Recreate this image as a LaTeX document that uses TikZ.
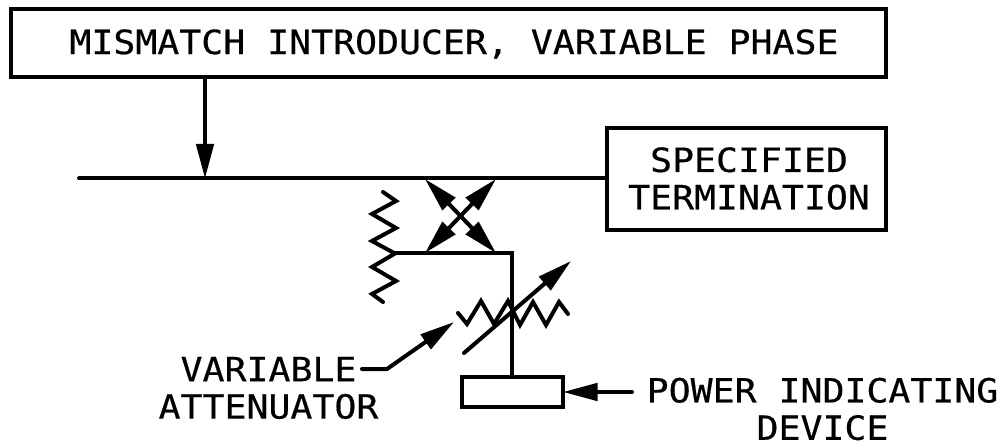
\documentclass[tikz,border=0pt]{standalone}
\usepackage{fontspec}
\setmainfont[FakeStretch=1.095,FakeBold=0.45]{DejaVu Sans Mono}
\usetikzlibrary{arrows.meta}
\tikzset{
  x=0.75pt,y=-0.75pt,
  wire/.style={line width=3pt,line join=miter,line cap=round},
  boxnode/.style={draw,line width=3pt,inner sep=0pt,outer sep=0pt,minimum width=#1},
  lab/.style={inner sep=0pt,align=center,font=\fontsize{25pt}{28pt}\selectfont},
  headtip/.style={-{Triangle[length=26pt,width=13pt]}},
  tipboth/.style={{Triangle[length=26pt,width=13pt]}-{Triangle[length=26pt,width=13pt]}},
}
\begin{document}
\begin{tikzpicture}
\useasboundingbox (0,0) rectangle (1003,445);
\node[boxnode=875*0.75pt,minimum height=51pt,anchor=north west] (top) at (11,9) {};
\node[lab] (toplab) at (454,44) {MISMATCH INTRODUCER, VARIABLE PHASE};
\node[boxnode=279*0.75pt,minimum height=76.5pt,anchor=north west] (spec) at (607,128) {};
\node[lab,anchor=center] (speclab) at (749,178.5) {SPECIFIED\\TERMINATION};
\node[boxnode=101*0.75pt,minimum height=22.5pt,anchor=north west] (meter) at (462,377) {};
\node[lab] (varlab) at (268.5,388) {VARIABLE\\ATTENUATOR};
\node[lab] (powlab) at (822.5,409) {POWER INDICATING\\DEVICE};

\coordinate (lineL) at (79,178.5);
\coordinate (lineA) at (205,178.5);
\coordinate (c1) at (425,179);
\coordinate (c2) at (496,179);
\coordinate (c3) at (425,253);
\coordinate (c4) at (496,253);
\coordinate (rtap) at (395,253.5);
\coordinate (corner) at (512,253.5);
\coordinate (meterT) at (512,377);
\coordinate (meterR) at (563,392);
\coordinate (powS) at (632,392);
\coordinate (vS) at (362,369);
\coordinate (vK) at (387,369);
\coordinate (vT) at (454,322);
\coordinate (adjS) at (464,353);
\coordinate (adjT) at (571,261);

\draw[wire] (lineL) -- (spec.west |- lineL);
\draw[wire,headtip] (top.south -| lineA) -- (lineA);
\draw[wire,tipboth] (c1) -- (c4);
\draw[wire,tipboth] (c2) -- (c3);
\draw[wire] (rtap) -- (corner) -- (meterT);
\draw[wire] (383,192) -- (396,201) -- (372,214) -- (396,228) -- (372,241) -- (rtap) -- (372,267) -- (396,281) -- (372,294) -- (383,302);
\draw[wire] (458,313) -- (467,324) -- (481,301) -- (494,324) -- (508,301) -- (520,325) -- (533,302) -- (546,325) -- (559,302) -- (568,314);
\draw[wire,headtip] (adjS) -- (adjT);
\draw[wire,headtip] (vS) -- (vK) -- (vT);
\draw[wire,headtip] (powS) -- (meterR);
\end{tikzpicture}
\end{document}
